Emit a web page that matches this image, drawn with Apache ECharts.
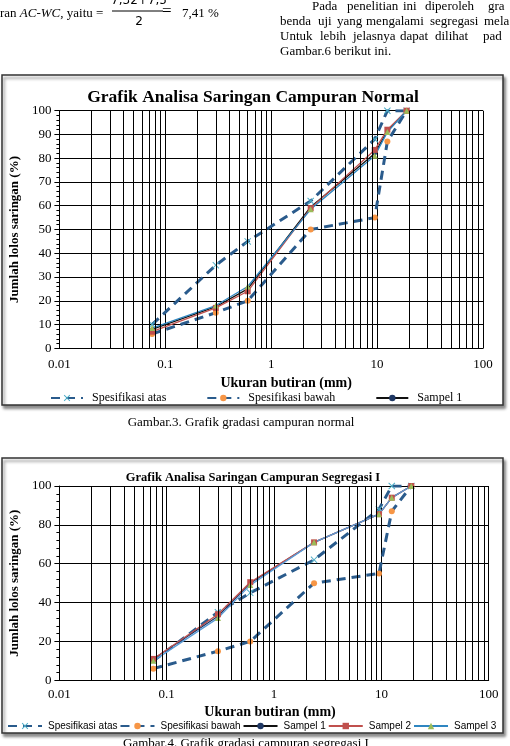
<!DOCTYPE html>
<html>
<head>
<meta charset="utf-8">
<title>Grafik Analisa Saringan</title>
<script src="https://cdn.jsdelivr.net/npm/echarts@6/dist/echarts.min.js"></script>
<style>
  html, body { margin: 0; padding: 0; background: #fff; }
  #main { width: 510px; height: 746px; }
</style>
</head>
<body>
<div id="main"></div>
<script>
// ukuran saringan (mm)
var ukuran = [0.075, 0.3, 0.6, 2.36, 9.5, 12.5, 19];
// batas spesifikasi AC-WC
var spesAtas  = [10, 35, 45, 62, 88, 100, 100];
var spesBawah = [6, 15, 20, 50, 55, 87, 100];
// campuran normal
var normal1 = [8, 17.5, 25, 59.5, 82, 91.5, 100];
var normal2 = [7, 17, 24, 59, 83.5, 92, 100];
var normal3 = [8.5, 18, 26, 58.5, 81, 91, 100];
// campuran segregasi I
var segregasi1 = [11, 33, 50, 71, 85.5, 94, 100];
var segregasi2 = [11, 34, 50.5, 71, 85.5, 94, 100];
var segregasi3 = [10, 32, 49, 71, 85.5, 94, 100];

var serif = 'Liberation Serif, Times New Roman, serif';
var sans = 'Liberation Sans, Arial, sans-serif';

// garis bantu log (2..9 tiap dekade)
var minorGrid = [];
[0.01, 0.1, 1, 10].forEach(function (d) {
  for (var k = 2; k <= 9; k++) minorGrid.push(+(d * k).toPrecision(3));
});

function pasang(vals) {
  return ukuran.map(function (u, i) { return [u, vals[i]]; });
}

var xMark = 'path://M1,0 L5,4 L9,0 L10,1 L6,5 L10,9 L9,10 L5,6 L1,10 L0,9 L4,5 L0,1 Z';
var biruGaris = '#2a5b8c';

function seriGrafik(idx, s1, s2, s3, warna3) {
  return [
    {
      name: '_grid', type: 'line', xAxisIndex: idx, yAxisIndex: idx, data: [],
      silent: true,
      markLine: {
        silent: true, symbol: ['none', 'none'], animation: false,
        label: { show: false },
        lineStyle: { color: '#000', width: 1, type: 'solid' },
        emphasis: { disabled: true },
        data: minorGrid.map(function (v) { return { xAxis: v }; })
      }
    },
    {
      name: 'Spesifikasi atas', type: 'line', xAxisIndex: idx, yAxisIndex: idx,
      data: pasang(spesAtas), symbol: xMark, symbolSize: 7,
      itemStyle: { color: '#4bacc6' },
      lineStyle: { color: biruGaris, width: 3, type: [9, 6] }
    },
    {
      name: 'Spesifikasi bawah', type: 'line', xAxisIndex: idx, yAxisIndex: idx,
      data: pasang(spesBawah), symbol: 'circle', symbolSize: 6,
      itemStyle: { color: '#f79646' },
      lineStyle: { color: biruGaris, width: 3, type: [9, 6] }
    },
    {
      name: 'Sampel 1', type: 'line', xAxisIndex: idx, yAxisIndex: idx,
      data: pasang(s1), symbol: 'circle', symbolSize: 4,
      itemStyle: { color: '#1f3864' },
      lineStyle: { color: idx === 0 ? '#111' : '#1f3864', width: 1.3 }
    },
    {
      name: 'Sampel 2', type: 'line', xAxisIndex: idx, yAxisIndex: idx,
      data: pasang(s2), symbol: 'rect', symbolSize: 6,
      itemStyle: { color: '#c0504d' },
      lineStyle: { color: '#c0504d', width: 1.3 }
    },
    {
      name: 'Sampel 3', type: 'line', xAxisIndex: idx, yAxisIndex: idx,
      data: pasang(s3), symbol: 'triangle', symbolSize: 6,
      itemStyle: { color: '#9bbb59' },
      lineStyle: { color: warna3, width: 1.3 }
    }
  ];
}

function sumbuX(idx, margin) {
  return {
    type: 'log', logBase: 10, gridIndex: idx, min: 0.01, max: 100,
    name: 'Ukuran butiran (mm)', nameLocation: 'middle',
    nameGap: idx === 0 ? 28 : 25,
    nameTextStyle: { fontFamily: serif, fontWeight: 'bold', fontSize: 14, color: '#000',
      padding: idx === 0 ? [0, 0, 0, 30] : [0, 0, 0, -8] },
    axisLine: { lineStyle: { color: '#000', width: 1 } },
    axisTick: { show: false },
    axisLabel: {
      fontFamily: serif, fontSize: 13, color: '#000', margin: margin,
      formatter: function (v) { return String(Math.round(v * 100) / 100); }
    },
    splitLine: { show: true, lineStyle: { color: '#000', width: 1 } }
  };
}

function sumbuY(idx, interval) {
  return {
    type: 'value', gridIndex: idx, min: 0, max: 100, interval: interval,
    name: 'Jumlah lolos saringan (%)', nameLocation: 'middle', nameGap: 30,
    nameTextStyle: { fontFamily: serif, fontWeight: 'bold', fontSize: 13, color: '#000' },
    axisLine: { show: true, lineStyle: { color: '#000', width: 1 } },
    axisTick: { show: true, length: 5, lineStyle: { color: '#000' } },
    minorTick: { show: true, splitNumber: 5, length: 3, lineStyle: { color: '#000' } },
    axisLabel: { fontFamily: serif, fontSize: 13, color: '#000', margin: 8 },
    splitLine: { show: true, lineStyle: { color: '#000', width: 1 } }
  };
}

function teks(x, y, s, opt) {
  opt = opt || {};
  return {
    type: 'text', x: x, y: y, z: 5,
    style: {
      text: s, fill: '#000',
      font: (opt.weight || 'normal') + ' ' + (opt.size || 13) + 'px ' + (opt.family || serif),
      textAlign: opt.align || 'left', textVerticalAlign: 'middle'
    }
  };
}

// teks rata kanan-kiri: kata per kata
var baris1 = [['Pada', 312], ['penelitian', 347], ['ini', 403], ['diperoleh', 425], ['gra', 488]];
var baris2 = [['benda', 280], ['uji', 318], ['yang', 337], ['mengalami', 366], ['segregasi', 430], ['mela', 484]];
var baris3 = [['Untuk', 280], ['lebih', 320], ['jelasnya', 353], ['dapat', 400], ['dilihat', 435], ['pad', 483]];

var grafis = [
  { type: 'rect', z: -1, shape: { x: 2, y: 75, width: 501, height: 330 },
    style: { fill: '#fff', stroke: '#333', lineWidth: 1.5,
      shadowColor: 'rgba(0,0,0,0.45)', shadowBlur: 3, shadowOffsetX: 2, shadowOffsetY: 3 } },
  { type: 'rect', z: -1, shape: { x: 2, y: 458, width: 501, height: 275 },
    style: { fill: '#fff', stroke: '#333', lineWidth: 1.5,
      shadowColor: 'rgba(0,0,0,0.45)', shadowBlur: 3, shadowOffsetX: 2, shadowOffsetY: 3 } },
  teks(253, 97, 'Grafik Analisa Saringan Campuran Normal', { weight: 'bold', size: 17.5, align: 'center' }),
  teks(253, 478, 'Grafik Analisa Saringan Campuran Segregasi I', { weight: 'bold', size: 12.5, align: 'center' }),
  teks(241, 423, 'Gambar.3. Grafik gradasi campuran normal', { align: 'center' }),
  teks(123, 744, 'Gambar.4. Grafik gradasi campuran segregasi I'),
  {
    type: 'text', x: 0, y: 14, z: 5,
    style: {
      text: 'ran {i|AC-WC}, yaitu =', fill: '#000', font: '13px ' + serif, textVerticalAlign: 'middle',
      rich: { i: { fontStyle: 'italic', fontFamily: serif, fontSize: 13 } }
    }
  },
  teks(139, 1, '7,32+7,5', { align: 'center', family: 'DejaVu Sans, sans-serif', size: 12 }),
  { type: 'line', z: 5, shape: { x1: 112, y1: 11, x2: 163, y2: 11 }, style: { stroke: '#000', lineWidth: 1 } },
  teks(139, 22, '2', { align: 'center', family: 'DejaVu Sans, sans-serif', size: 12 }),
  teks(162, 12, '=', { size: 17 }),
  teks(182, 14, '7,41 %'),
  teks(280, 52, 'Gambar.6 berikut ini.')
];
baris1.forEach(function (w) { grafis.push(teks(w[1], 7, w[0])); });
baris2.forEach(function (w) { grafis.push(teks(w[1], 22, w[0])); });
baris3.forEach(function (w) { grafis.push(teks(w[1], 37, w[0])); });

var chart = echarts.init(document.getElementById('main'));
var option = {
  animation: false,
  backgroundColor: '#fff',
  grid: [
    { left: 50, top: 110.7, width: 433, height: 237.6 },
    { left: 50, top: 486, width: 438.7, height: 194.3 }
  ],
  xAxis: [sumbuX(0, 10), sumbuX(1, 8)],
  yAxis: [sumbuY(0, 10), sumbuY(1, 20)],
  legend: [
    {
      left: 45, top: 387, itemWidth: 32, itemHeight: 8, itemGap: 40,
      data: ['Spesifikasi atas', 'Spesifikasi bawah', 'Sampel 1'],
      textStyle: { fontFamily: serif, fontSize: 12, color: '#000', padding: [0, 0, 0, 4] }
    },
    {
      left: 2, top: 716, width: 800, itemWidth: 34, itemHeight: 8, itemGap: 2,
      data: ['Spesifikasi atas', 'Spesifikasi bawah', 'Sampel 1', 'Sampel 2', 'Sampel 3'],
      textStyle: { fontFamily: sans, fontSize: 10, color: '#000', padding: [0, 0, 0, 1] }
    }
  ],
  graphic: grafis,
  series: seriGrafik(0, normal1, normal2, normal3, '#2e86c1')
    .concat(seriGrafik(1, segregasi1, segregasi2, segregasi3, '#5b9bd5'))
};
chart.setOption(option);
</script>
</body>
</html>
